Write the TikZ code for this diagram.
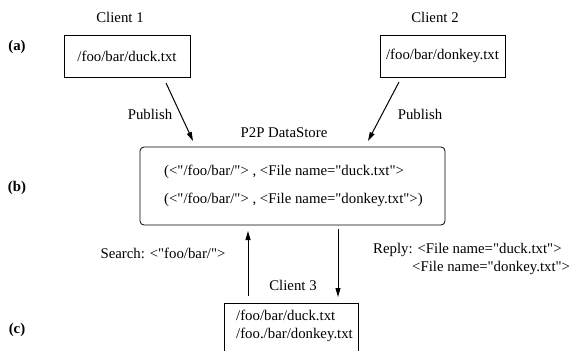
\documentclass[tikz,border=0pt]{standalone}
\usepackage{fontspec}
\newfontfamily\plainserif{Liberation Serif}
\usetikzlibrary{arrows.meta}
\begin{document}
\begin{tikzpicture}[x=1pt,y=-1pt,
  font=\plainserif\fontsize{14.8}{17}\selectfont,
  filebox/.style={draw, line width=0.8pt, inner sep=0pt},
  txt/.style={inner sep=0pt},
  txtw/.style={inner sep=0pt, anchor=west},
  tag/.style={inner sep=0pt, font=\plainserif\fontsize{14.8}{17}\selectfont\bfseries},
  arr/.style={line width=1pt, -{Triangle[length=9pt,width=5pt]}}]
\useasboundingbox (0,0) rectangle (577,350);
\clip (0,0) rectangle (577,350);

% row labels
\node[tag] (la) at (17,47) {(a)};
\node[tag] (lb) at (17,188) {(b)};
\node[tag] (lc) at (17,330) {(c)};

% clients 1 and 2
\node[txt] (c1lbl) at (120,17) {Client 1};
\node[filebox, minimum width=126pt, minimum height=42pt] (c1) at (127,56) {/foo/bar/duck.txt};
\node[txt] (c2lbl) at (435,17) {Client 2};
\node[filebox, minimum width=125pt, minimum height=42pt] (c2) at (442.5,56) {/foo/bar/donkey.txt};

% data store
\node[txt] (dslbl) at (284,133) {P2P DataStore};
\node[filebox, rounded corners=4pt, minimum width=305pt, minimum height=78pt] (ds) at (292.5,186) {};
\node[txtw] (ds1) at (164,172) {(<"/foo/bar/"> , <File name="duck.txt">};
\node[txtw] (ds2) at (164,200) {(<"/foo/bar/"> , <File name="donkey.txt">)};

% client 3
\node[txt] (c3lbl) at (293,285) {Client 3};
\node[filebox, minimum width=134pt, minimum height=62pt] (c3) at (291,334) {};
\node[txtw] (c3a) at (236,315) {/foo/bar/duck.txt};
\node[txtw] (c3b) at (236,335) {/foo./bar/donkey.txt};

% edge labels
\node[txt] (pub1) at (150,114) {Publish};
\node[txt] (pub2) at (420,114) {Publish};
\node[txt] (srch) at (163,253) {Search: <"foo/bar/">};
\node[txtw] (rep1) at (373,250) {Reply: <File name="duck.txt">};
\node[txtw] (rep2) at (412,268) {<File name="donkey.txt">};

% connector ends
\coordinate (a1s) at (166,83);
\coordinate (a1e) at (193,141);
\coordinate (a2s) at (399,82);
\coordinate (a2e) at (368,141);
\coordinate (us) at (248,296);
\coordinate (ue) at (248,231);
\coordinate (dsb) at (338,229);
\coordinate (de) at (338,297);

\draw[arr] (a1s) -- (a1e);
\draw[arr] (a2s) -- (a2e);
\draw[arr] (us) -- (ue);
\draw[arr] (dsb) -- (de);
\end{tikzpicture}
\end{document}
